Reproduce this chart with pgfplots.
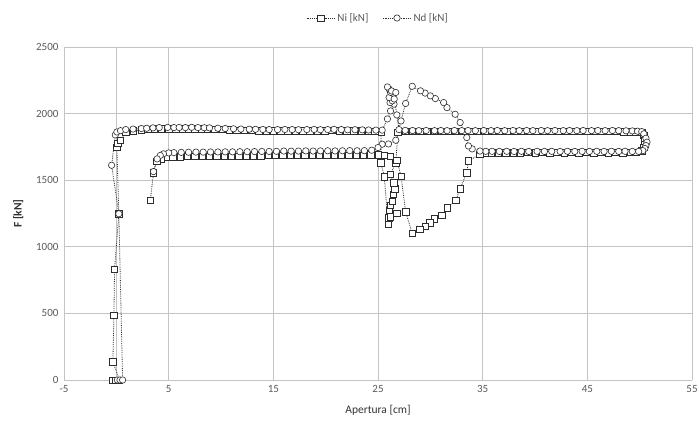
\documentclass[border=0pt]{standalone}
\usepackage{fontspec}
\setmainfont{Carlito}
\usepackage{pgfplots}
\pgfplotsset{compat=1.18}
\definecolor{gridc}{RGB}{196,196,196}
\definecolor{txt}{RGB}{89,89,89}
\definecolor{mk}{RGB}{45,45,45}
\begin{document}
\begin{tikzpicture}
\useasboundingbox (-64pt,-44pt) rectangle (635pt,380pt);
\begin{axis}[
  at={(0pt,0pt)}, anchor=south west, scale only axis,
  width=628pt, height=333pt,
  xmin=-5, xmax=55, ymin=0, ymax=2500,
  xtick={-5,5,...,55}, ytick={0,500,...,2500},
  extra x ticks={0}, extra x tick labels={},
  extra x tick style={grid style={gridc, line width=1pt}},
  grid=major, grid style={gridc, line width=0.9pt},
  axis line style={draw=none}, tick style={draw=none},
  /pgf/number format/assume math mode=true,
  /pgf/number format/1000 sep={},
  ticklabel style={font=\fontsize{11}{13}\selectfont, text=txt},
  xticklabel style={yshift=-2pt},
  yticklabel style={xshift=-2pt},
  xlabel={Apertura [cm]}, ylabel={\bfseries F [kN]},
  label style={font=\fontsize{11.5}{13}\selectfont, text=black!80},
  xlabel style={at={(axis description cs:0.5,-0.09)}, anchor=center},
  ylabel style={at={(axis description cs:-0.073,0.5)}, anchor=center},
  legend columns=2,
  legend image code/.code={\draw[#1, mark repeat=2, mark phase=2] plot coordinates {(0cm,0cm) (0.5cm,0cm) (1.0cm,0cm)};},
  legend style={at={(axis description cs:0.5,1.087)}, anchor=center, draw=none,
    font=\fontsize{11}{13}\selectfont, text=txt,
    /tikz/every even column/.append style={column sep=12pt}},
  every axis plot/.append style={densely dotted, draw=mk, line width=0.8pt,
    mark size=3.2pt, mark options={solid, fill=white, draw=mk, line width=0.6pt}},
]
\addplot[mark=square*] coordinates {
(-0.35,0) (-0.1,0) (0.3,0) (-0.33,138) (-0.23,484) (-0.17,833) (0.24,1248)
(0.05,1745) (0.15,1775) (0.4,1800) (0.9,1860) (1.6,1872) (2.4,1878) (3.0,1882)
(3.6,1885) (4.3,1886) (5.0,1887) (5.7,1886) (6.3,1887) (6.9,1886) (7.5,1887)
(8.1,1886) (8.7,1884) (9.4,1882) (10.1,1880) (10.8,1878) (11.5,1876) (12.2,1875)
(12.9,1873) (13.6,1872) (14.3,1872) (15.0,1871) (15.7,1872) (16.4,1872) (17.1,1871)
(17.8,1872) (18.5,1872) (19.2,1871) (19.9,1872) (20.6,1873) (21.3,1872) (22.0,1870)
(22.7,1871) (23.4,1870) (24.1,1869) (24.7,1868) (25.3,1860)
(25.27,1632) (25.6,1526) (25.97,1167) (26.8,1250) (26.05,1217) (26.15,1225)
(26.06,1275) (26.2,1310) (26.37,1343) (26.47,1393) (26.6,1436) (26.5,1481)
(26.2,1543) (26.7,1632) (26.9,1860)
(27.6,1866) (28.3,1865) (29.0,1866) (29.7,1865) (30.4,1866) (31.1,1865) (31.7,1866)
(32.4,1865) (33.1,1866) (33.8,1865) (34.5,1866) (35.2,1865) (35.9,1866) (36.6,1865)
(37.3,1866) (38.0,1865) (38.7,1866) (39.4,1865) (40.1,1866) (40.8,1865) (41.5,1866)
(42.2,1865) (42.9,1866) (43.6,1865) (44.3,1866) (45.0,1865) (45.7,1866) (46.4,1865)
(47.1,1866) (47.8,1865) (48.5,1864) (49.1,1863) (49.6,1862)
(50.2,1858) (50.4,1835) (50.5,1800) (50.5,1770) (50.4,1745) (50.2,1722) (49.7,1710)
(49.1,1708) (48.4,1707) (47.7,1708) (47.0,1707) (46.3,1708) (45.6,1707) (44.9,1708)
(44.2,1707) (43.5,1708) (42.8,1707) (42.1,1708) (41.4,1707) (40.7,1708) (40.0,1707)
(39.3,1708) (38.6,1707) (37.9,1706) (37.2,1707) (36.5,1706) (35.8,1705) (35.2,1703)
(34.74,1694) (33.64,1646) (33.48,1556) (32.85,1435) (32.44,1350) (31.6,1293)
(31.1,1235) (30.38,1210) (29.95,1180) (29.5,1155) (29.0,1130) (28.27,1100)
(27.64,1263) (27.2,1531) (26.8,1650) (26.2,1680) (25.6,1688)
(25.0,1690) (24.3,1690) (23.6,1689) (22.9,1690) (22.2,1689) (21.5,1690) (20.8,1689)
(20.1,1690) (19.4,1689) (18.7,1688) (18.0,1689) (17.3,1688) (16.6,1687) (15.9,1688)
(15.2,1686) (14.5,1685) (13.8,1684) (13.1,1683) (12.4,1682) (11.7,1681) (11.0,1680)
(10.3,1680) (9.6,1679) (8.9,1680) (8.2,1679) (7.5,1678) (6.8,1678) (6.1,1677)
(5.4,1676) (4.8,1672) (4.3,1662) (3.85,1644) (3.55,1556) (3.25,1350)
};
\addlegendentry{Ni [kN]}
\addplot[mark=*] coordinates {
(0.1,0) (0.35,0) (0.6,0) (0.24,1248) (-0.45,1612) (-0.1,1840) (0.05,1862)
(0.4,1872) (0.9,1880) (1.6,1884) (2.4,1888) (2.9,1890) (3.5,1893) (4.1,1895)
(4.9,1896) (5.5,1895) (6.0,1896) (6.6,1895) (7.2,1897) (7.8,1895) (8.4,1894)
(8.9,1893) (9.7,1890) (10.4,1888) (11.2,1886) (11.9,1884) (12.7,1883) (13.3,1882)
(14.0,1881) (14.6,1880) (15.4,1880) (16.1,1881) (16.8,1880) (17.4,1879) (18.2,1880)
(18.9,1881) (19.5,1879) (20.2,1880) (20.8,1882) (21.5,1880) (22.1,1878) (22.8,1879)
(23.5,1878) (24.1,1877) (24.8,1876) (25.4,1876)
(25.9,1960) (26.2,2020) (26.53,2071) (26.15,2083) (26.37,2096) (26.06,2121)
(26.2,2159) (26.06,2184) (25.9,2200) (26.3,2170) (26.7,2159) (26.55,2110)
(26.8,1990) (27.0,1880)
(27.6,1874) (28.3,1873) (28.9,1872) (29.6,1873) (30.4,1872) (31.0,1873) (31.6,1872)
(32.3,1873) (33.0,1872) (33.6,1873) (34.3,1872) (35.1,1873) (35.8,1872) (36.4,1873)
(37.1,1872) (37.9,1873) (38.5,1872) (39.2,1873) (39.8,1872) (40.6,1873) (41.2,1872)
(41.9,1873) (42.7,1872) (43.3,1873) (44.0,1872) (44.6,1873) (45.4,1872) (46.0,1873)
(46.7,1872) (47.4,1873) (48.0,1872) (48.7,1871) (49.3,1870) (49.8,1868)
(50.2,1865) (50.4,1848) (50.6,1815) (50.7,1785) (50.6,1760) (50.5,1738) (50.3,1722)
(49.9,1716)
(49.3,1716) (48.6,1717) (48.0,1716) (47.3,1717) (46.6,1716) (45.9,1717) (45.2,1716)
(44.5,1717) (43.8,1716) (43.1,1717) (42.4,1716) (41.6,1717) (40.9,1716) (40.2,1717)
(39.4,1716) (38.7,1717) (38.0,1716) (37.3,1717) (36.6,1716) (35.9,1717) (35.3,1717)
(34.74,1719) (34.0,1735) (33.64,1757) (33.48,1820) (32.85,1933) (32.37,1995)
(31.59,2045) (31.27,2083) (30.48,2113) (30.0,2133) (29.5,2154) (29.06,2171)
(28.27,2205) (27.64,2076) (27.2,1945) (26.7,1800) (26.0,1772) (25.4,1770)
(25.0,1745) (24.4,1725)
(23.7,1722) (23.0,1721) (22.3,1722) (21.6,1721) (20.9,1720) (20.2,1721) (19.5,1720)
(18.8,1719) (18.1,1720) (17.4,1719) (16.7,1718) (16.0,1719) (15.3,1717) (14.6,1716)
(13.9,1716) (13.2,1715) (12.5,1714) (11.8,1714) (11.1,1713) (10.4,1713) (9.7,1712)
(9.0,1712) (8.3,1711) (7.6,1711) (6.9,1710) (6.2,1709) (5.5,1707) (5.0,1705)
(4.5,1698) (4.2,1686) (3.9,1660) (3.55,1565)
};
\addlegendentry{Nd [kN]}
\end{axis}
\end{tikzpicture}
\end{document}
